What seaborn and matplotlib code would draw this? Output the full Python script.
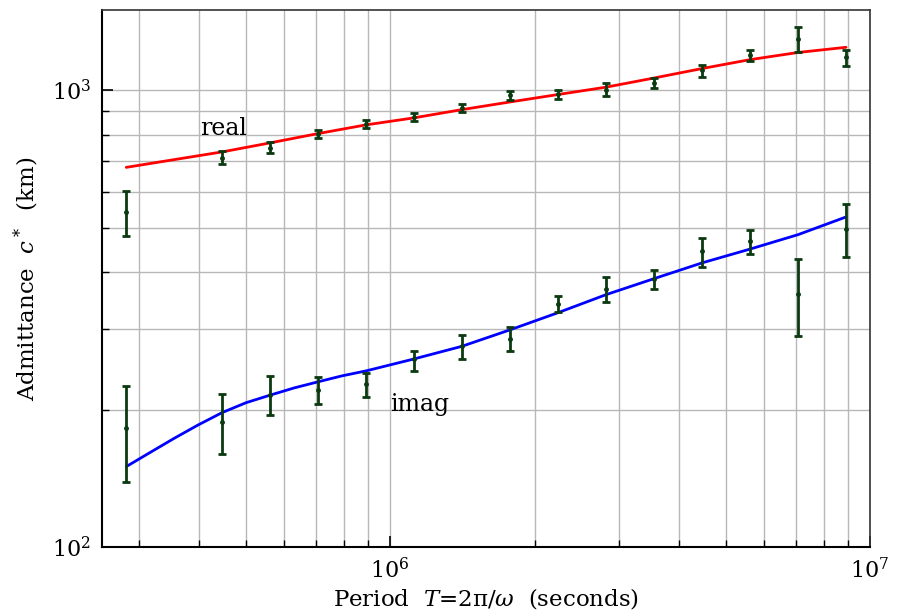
import matplotlib
matplotlib.use("Agg")
import matplotlib.pyplot as plt
import matplotlib.ticker as mtick
import numpy as np
import pandas as pd
import seaborn as sns

periods = [2.82e5, 4.47e5, 5.62e5, 7.08e5, 8.91e5, 1.12e6, 1.41e6, 1.78e6,
           2.24e6, 2.82e6, 3.55e6, 4.47e6, 5.62e6, 7.08e6, 8.91e6]
real_obs = [541, 710, 746, 801, 843, 874, 915, 975, 980, 1003, 1039, 1106, 1197, 1295, 1183]
real_lo = [479, 689, 729, 786, 825, 855, 897, 951, 957, 970, 1014, 1068, 1159, 1213, 1130]
real_hi = [601, 736, 769, 820, 859, 893, 933, 997, 1000, 1038, 1064, 1138, 1227, 1376, 1227]
imag_obs = [182, 188, 215, 221, 227, 258, 275, 286, 341, 368, 387, 444, 467, 358, 497]
imag_lo = [139, 160, 195, 206, 213, 243, 258, 268, 327, 344, 367, 411, 439, 290, 431]
imag_hi = [225, 216, 237, 236, 240, 268, 291, 303, 354, 390, 405, 476, 494, 427, 563]

# Model curves (read at finer steps where they bend)
real_periods = [2.82e5, 3.55e5, 4.47e5, 5.62e5, 7.08e5, 8.91e5, 1.12e6, 1.41e6, 1.78e6,
                2.24e6, 2.82e6, 3.55e6, 4.47e6, 5.62e6, 7.08e6, 8.91e6]
real_fit = [678, 705, 733, 767, 804, 840, 870, 907, 943, 979, 1016, 1064, 1116, 1167, 1210, 1242]
imag_periods = [2.82e5, 3.16e5, 3.55e5, 3.98e5, 4.47e5, 5.01e5, 5.62e5, 6.31e5, 7.08e5,
                7.94e5, 8.91e5, 1.12e6, 1.41e6, 1.78e6, 2.24e6, 2.82e6, 3.55e6, 4.47e6,
                5.62e6, 7.08e6, 8.91e6]
imag_fit = [150, 161, 173, 185, 197, 207, 215, 223, 230, 237, 243, 258, 275, 299, 326,
            357, 387, 419, 449, 483, 528]

GREEN = "#0a3a10"

sns.set_theme(style="whitegrid")
plt.rcParams["font.family"] = ["DejaVu Serif"]
plt.rcParams["mathtext.fontset"] = "dejavuserif"
plt.rcParams["text.color"] = "black"
plt.rcParams["axes.labelcolor"] = "black"

fig = plt.figure(figsize=(8.97, 6.16), dpi=100)
ax = fig.add_axes([0.1137, 0.112, 0.8563, 0.872])

fit = pd.DataFrame({"T": real_periods + imag_periods,
                    "c": real_fit + imag_fit,
                    "part": ["real"] * len(real_fit) + ["imag"] * len(imag_fit)})
sns.lineplot(data=fit, x="T", y="c", hue="part", palette={"real": "red", "imag": "blue"},
             linewidth=2, legend=False, ax=ax, zorder=3)

for obs, lo, hi in [(real_obs, real_lo, real_hi), (imag_obs, imag_lo, imag_hi)]:
    obs = np.array(obs)
    yerr = [obs - np.array(lo), np.array(hi) - obs]
    ax.errorbar(periods, obs, yerr=yerr, fmt="o", color=GREEN, ms=2.5, elinewidth=2,
                capsize=3, capthick=2, zorder=4)

ax.set_xscale("log")
ax.set_yscale("log")
ax.set_xlim(2.51e5, 1e7)
ax.set_ylim(100, 1500)

ax.grid(True, which="both", color="#b8b8b8", linewidth=1)
ax.yaxis.set_minor_formatter(mtick.NullFormatter())
ax.xaxis.set_minor_formatter(mtick.NullFormatter())
ax.tick_params(which="both", direction="in", left=True, bottom=True, top=False, right=False,
               colors="black", labelsize=16)
ax.tick_params(which="major", length=8, width=1.2, pad=8)
ax.tick_params(which="minor", length=5, width=1)
for side, s in ax.spines.items():
    s.set_visible(True)
    s.set_color("black" if side in ("left", "bottom") else "#333333")
    s.set_linewidth(1.5 if side in ("left", "bottom") else 1.2)

ax.text(4.02e5, 826, "real", fontsize=17, ha="left", va="center")
ax.text(1.0e6, 205, "imag", fontsize=17, ha="left", va="center")

ax.set_xlabel("Period  $T$=2π/$\\omega$  (seconds)", fontsize=16.5, labelpad=2)
ax.set_ylabel("Admittance  $c^*$  (km)", fontsize=16.5, labelpad=8)

fig.savefig("out.png", dpi=100)
